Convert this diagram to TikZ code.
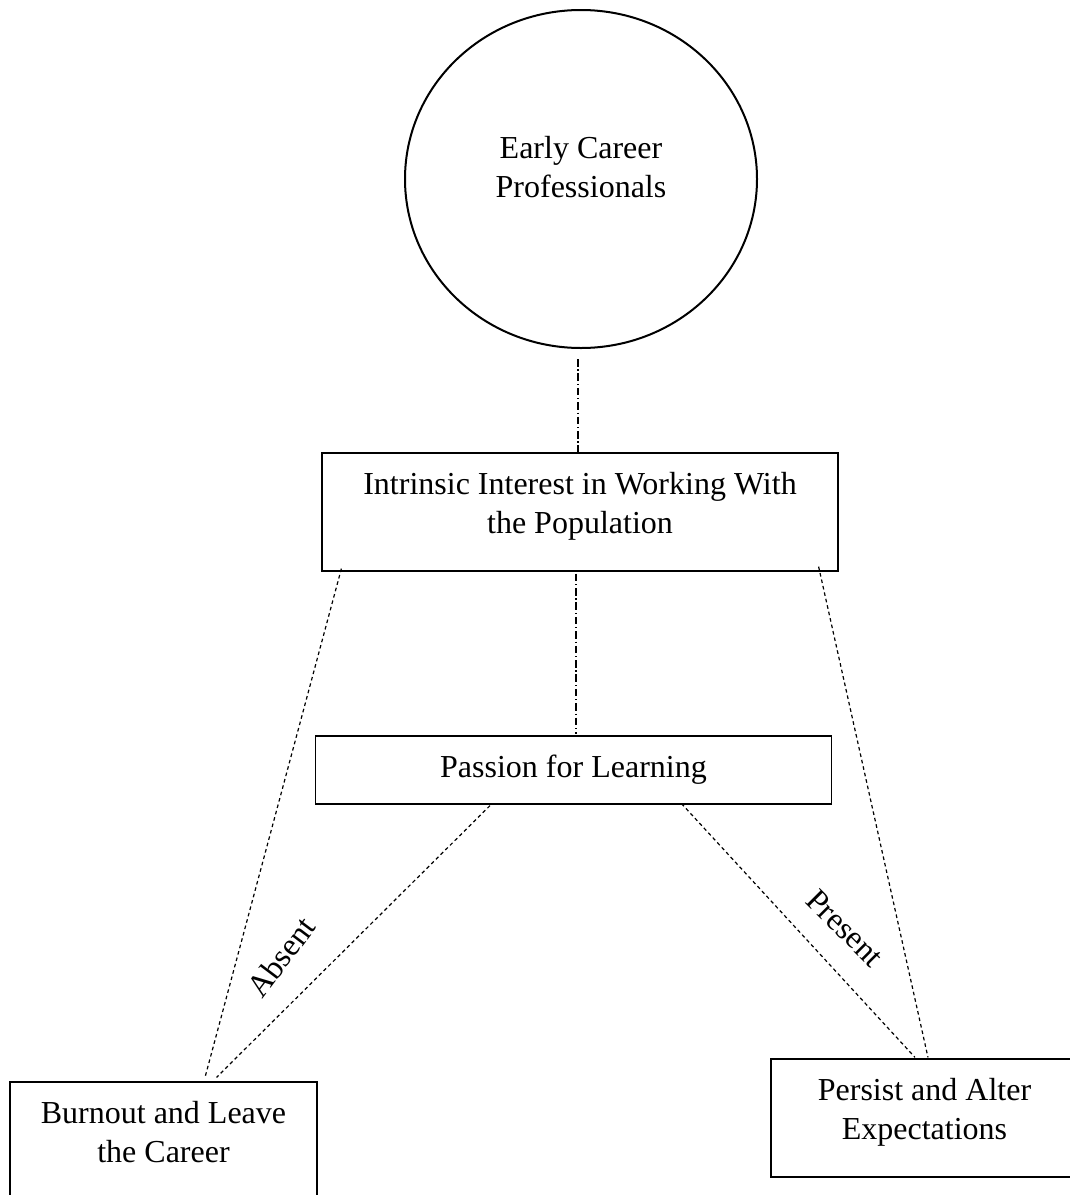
\documentclass[tikz,border=0pt]{standalone}
\usepackage{fontspec}
\setmainfont{Liberation Serif}
\usetikzlibrary{shapes.geometric,calc}

% invisible strut that deepens the last line of a node
\newcommand\padbelow[1]{\rule[-#1]{0pt}{#1}}

\begin{document}
\begin{tikzpicture}[x=0.5pt,y=-0.5pt,
  every node/.style={font=\fontsize{16}{19.5}\selectfont, align=center, inner sep=0pt},
  ovalnode/.style={ellipse, draw, line width=1pt, minimum width=176pt, minimum height=169pt},
  boxnode/.style={rectangle, draw, line width=0.6pt, minimum height=59pt},
  widebox/.style={boxnode, minimum width=258pt},
  outcomebox/.style={boxnode, minimum width=153.5pt},
  dashdotline/.style={line width=0.6pt, dash pattern=on 3.8pt off 1.4pt on 0.6pt off 1.4pt},
  dashline/.style={line width=0.6pt, dash pattern=on 1.8pt off 1.5pt},
]
\useasboundingbox (0,0) rectangle (1070,1195);
\clip (0,0) rectangle (1070,1195);

% nodes
\node[ovalnode] (ecp) at (581,179) {Early Career\\Professionals\padbelow{12pt}};
\node[widebox] (intr) at (580,512) {Intrinsic Interest in Working With\\the Population\padbelow{9pt}};
\node[widebox, minimum height=34pt] (passion) at (573.5,770) {Passion for Learning};
\node[outcomebox] (burn) at (163.5,1141) {Burnout and Leave\\the Career\padbelow{9pt}};
\node[outcomebox] (persist) at (924.5,1118) {Persist and Alter\\Expectations\padbelow{9pt}};

% main chain
\draw[dashdotline] ($(ecp.south)+(-3,10)$) -- ($(intr.north)+(-2,0)$);
\draw[dashdotline] ($(intr.south)+(-4,2)$) -- ($(passion.north)+(2.5,-1)$);

% outcome links
\draw[dashline] ($(intr.south west)+(20,-3)$) -- ($(burn.north)+(41.5,-4)$);
\draw[dashline] ($(passion.south)+(-83.5,1)$) -- ($(burn.north)+(53,-4)$);
\draw[dashline] ($(passion.south)+(108,-1)$) -- ($(persist.north)+(-9.5,-1)$);
\draw[dashline] ($(intr.south east)+(-20,-5)$) -- ($(persist.north)+(3.5,-1)$);

% link labels
\node[rotate=53] (absent) at (281,957) {Absent};
\node[rotate=-45] (present) at (845,928) {Present};
\end{tikzpicture}
\end{document}
